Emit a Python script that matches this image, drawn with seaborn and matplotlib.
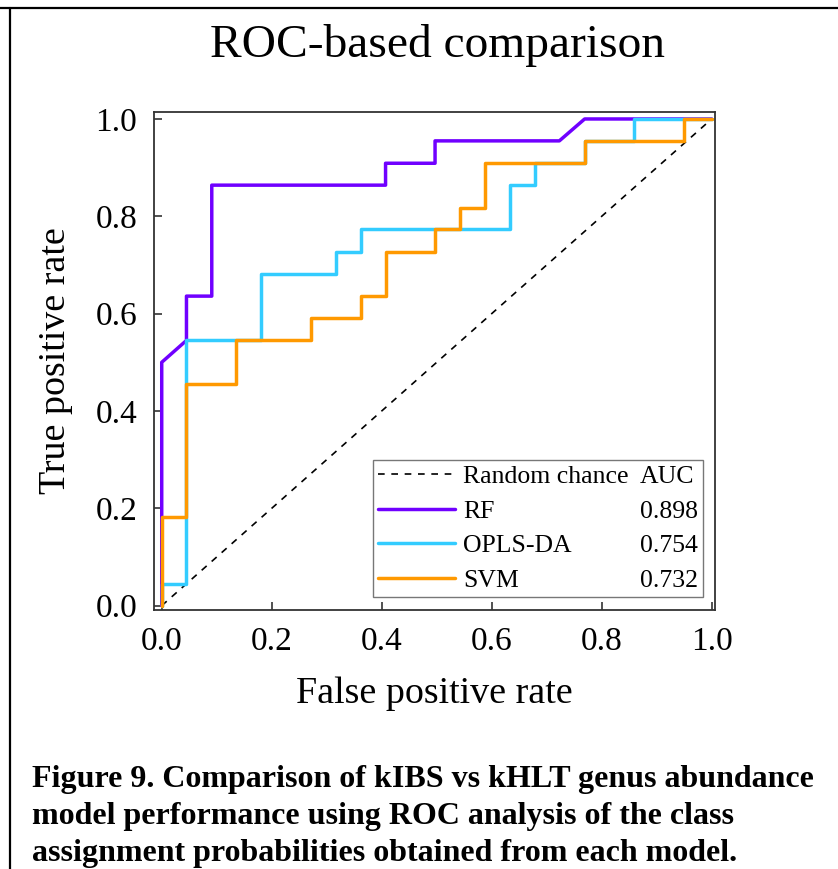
import matplotlib
matplotlib.use("Agg")
import matplotlib.pyplot as plt
from matplotlib.lines import Line2D
import seaborn as sns

# ---- data ----
rf_fpr = [0, 0, 0.045, 0.045, 0.091, 0.091, 0.407, 0.407, 0.497, 0.497, 0.723, 0.769, 1.0]
rf_tpr = [0, 0.5, 0.545, 0.636, 0.636, 0.864, 0.864, 0.909, 0.909, 0.955, 0.955, 1.0, 1.0]

opls_fpr = [0, 0, 0.045, 0.045, 0.180, 0.180, 0.316, 0.316, 0.362, 0.362,
            0.633, 0.633, 0.679, 0.679, 0.769, 0.769, 0.858, 0.858, 1.0]
opls_tpr = [0, 0.045, 0.045, 0.545, 0.545, 0.682, 0.682, 0.727, 0.727, 0.773,
            0.773, 0.864, 0.864, 0.909, 0.909, 0.955, 0.955, 1.0, 1.0]

svm_fpr = [0, 0, 0.045, 0.045, 0.135, 0.135, 0.271, 0.271, 0.362, 0.362, 0.407, 0.407,
           0.497, 0.497, 0.543, 0.543, 0.587, 0.587, 0.769, 0.769, 0.950, 0.950, 1.0]
svm_tpr = [0, 0.182, 0.182, 0.455, 0.455, 0.545, 0.545, 0.591, 0.591, 0.636, 0.636, 0.727,
           0.727, 0.773, 0.773, 0.818, 0.818, 0.909, 0.909, 0.955, 0.955, 1.0, 1.0]

chance = [0, 1]

models = ["RF", "OPLS-DA", "SVM"]
auc_values = ["0.898", "0.754", "0.732"]
colors = ["#7000FF", "#33CCFF", "#FF9900"]
ticks = [0.0, 0.2, 0.4, 0.6, 0.8, 1.0]
tick_labels = ["0.0", "0.2", "0.4", "0.6", "0.8", "1.0"]

title = "ROC-based comparison"
xlabel = "False positive rate"
ylabel = "True positive rate"
caption = ("Figure 9. Comparison of kIBS vs kHLT genus abundance\n"
           "model performance using ROC analysis of the class\n"
           "assignment probabilities obtained from each model.")

# ---- style ----
sns.set_theme(style="white")
plt.rcParams["font.family"] = ["Liberation Serif", "DejaVu Serif"]
for k in ["text.color", "axes.labelcolor", "xtick.color", "ytick.color"]:
    plt.rcParams[k] = "black"

fig = plt.figure(figsize=(8.38, 8.69), dpi=100)
ax = fig.add_axes([0.1838, 0.2980, 0.8532 - 0.1838, 0.8715 - 0.2980])

sns.lineplot(x=chance, y=chance, ax=ax, color="black", lw=1.2,
             linestyle=(0, (4, 4)), sort=False, estimator=None)
for fpr, tpr, c in zip([rf_fpr, opls_fpr, svm_fpr], [rf_tpr, opls_tpr, svm_tpr], colors):
    sns.lineplot(x=fpr, y=tpr, ax=ax, color=c, lw=2.5, sort=False, estimator=None)

ax.set_xlim(-0.014, 1.006)
ax.set_ylim(-0.009, 1.015)
ax.set_xticks(ticks)
ax.set_xticklabels(tick_labels)
ax.set_yticks(ticks)
ax.set_yticklabels(tick_labels)
ax.tick_params(direction="in", length=6, width=1.2, color="#333333",
               labelsize=24, pad=12, bottom=True, left=True, top=False, right=False)
for s in ax.spines.values():
    s.set_color("#333333")
    s.set_linewidth(1.3)

ax.set_xlabel(xlabel, fontsize=27.4, labelpad=14)
ax.set_ylabel(ylabel, fontsize=27.4, labelpad=16)
fig.text(0.522, 0.948, title, fontsize=34.2, ha="center", va="center")

# legend: two columns (label | AUC)
blank = Line2D([], [], color="none")
handles = [Line2D([], [], color="black", lw=1.2, linestyle=(0, (4, 4)))]
handles += [Line2D([], [], color=c, lw=2.5) for c in colors]
handles += [blank] * 4
labels = ["Random chance"] + models + ["AUC"] + auc_values
leg = ax.legend(handles, labels, ncol=2, loc="lower right",
                bbox_to_anchor=(0.979, 0.026), borderaxespad=0,
                fontsize=18.5, handlelength=3.0, handletextpad=0.3,
                columnspacing=-2.85, labelspacing=0.45,
                frameon=True, fancybox=False, edgecolor="#555555",
                borderpad=0.2)
leg.get_frame().set_linewidth(1.0)

# caption
fig.text(0.038, 0.120, caption, fontsize=23, fontweight="bold", ha="left",
         va="top", linespacing=1.38)

# figure frame (top and left)
fig.add_artist(Line2D([0, 1], [1 - 8 / 869, 1 - 8 / 869], color="black", lw=1.6,
                      transform=fig.transFigure))
fig.add_artist(Line2D([9.5 / 838, 9.5 / 838], [0, 1 - 8 / 869], color="black", lw=1.6,
                      transform=fig.transFigure))

fig.savefig("out.png", dpi=100)
